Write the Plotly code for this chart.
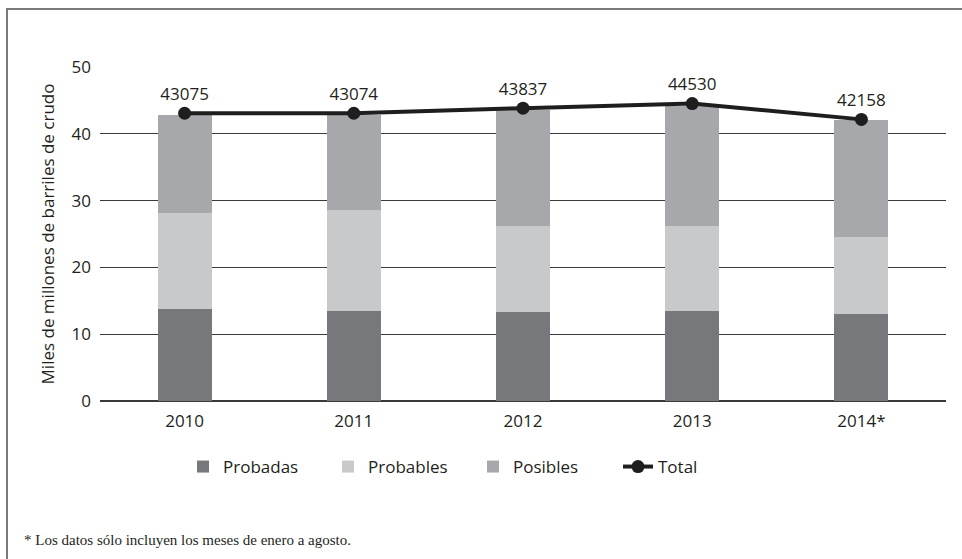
import plotly.graph_objects as go

years = ["2010", "2011", "2012", "2013", "2014*"]
probadas = [13.8, 13.4, 13.35, 13.4, 13.0]
probables = [14.3, 15.2, 12.85, 12.8, 11.5]
posibles = [14.7, 14.2, 17.3, 18.0, 17.5]
total = [43.075, 43.074, 43.837, 44.530, 42.158]
total_labels = ["43075", "43074", "43837", "44530", "42158"]

FONT = "Open Sans"
FS = 17
W, H = 962, 559
L, R, T, B = 100, 16, 67, 158
pw = W - L - R
ph = H - T - B

def px_x(x):
    return (x - L) / pw

def px_y(y):
    return (H - B - y) / ph

fig = go.Figure()
fig.add_bar(x=years, y=probadas, name="Probadas", marker=dict(color="#77787b", line_width=0))
fig.add_bar(x=years, y=probables, name="Probables", marker=dict(color="#c8c9cb", line_width=0))
fig.add_bar(x=years, y=posibles, name="Posibles", marker=dict(color="#a7a8ab", line_width=0))
fig.add_scatter(x=years, y=total, name="Total", mode="lines+markers+text",
                text=total_labels, textposition="top center",
                textfont=dict(family=FONT, size=FS, color="#231f20"),
                line=dict(color="#1e1e1e", width=4),
                marker=dict(color="#1e1e1e", size=13))

fig.update_layout(
    width=W, height=H,
    margin=dict(l=L, r=R, t=T, b=B),
    barmode="stack", bargap=0.68,
    plot_bgcolor="white", paper_bgcolor="white",
    font=dict(family=FONT, size=FS, color="#231f20"),
    showlegend=True,
    legend=dict(orientation="h", x=px_x(183), xanchor="left", y=px_y(467), yanchor="middle",
                font=dict(family=FONT, size=FS, color="#231f20"),
                entrywidth=100, entrywidthmode="pixels", traceorder="normal"),
    xaxis=dict(showgrid=False, showline=False, ticks="", tickfont=dict(size=FS), ticklabelstandoff=8),
    yaxis=dict(range=[0, 50], dtick=10, showgrid=True, gridcolor="#3a3a3a", gridwidth=1,
               zeroline=True, zerolinecolor="#3a3a3a", zerolinewidth=1.5,
               showline=False, ticks="", ticklabelstandoff=8, tickfont=dict(size=FS),
               title=dict(text="Miles de millones de barriles de crudo", font=dict(size=FS), standoff=12)),
    shapes=[
        dict(type="path", xref="paper", yref="paper",
             path=f"M {px_x(W+20)} {px_y(9)} L {px_x(7)} {px_y(9)} L {px_x(7)} {px_y(H+20)}",
             line=dict(color="#7a7a7a", width=2)),
    ],
    annotations=[
        dict(text="* Los datos sólo incluyen los meses de enero a agosto.",
             xref="paper", yref="paper", x=px_x(22), y=px_y(540), xanchor="left", yanchor="middle",
             showarrow=False, font=dict(family="Liberation Serif", size=15, color="#231f20")),
    ],
)

fig.write_html("out.html", config={"displayModeBar": False},
               post_script="document.body.style.margin='0';document.body.style.overflow='hidden';")
